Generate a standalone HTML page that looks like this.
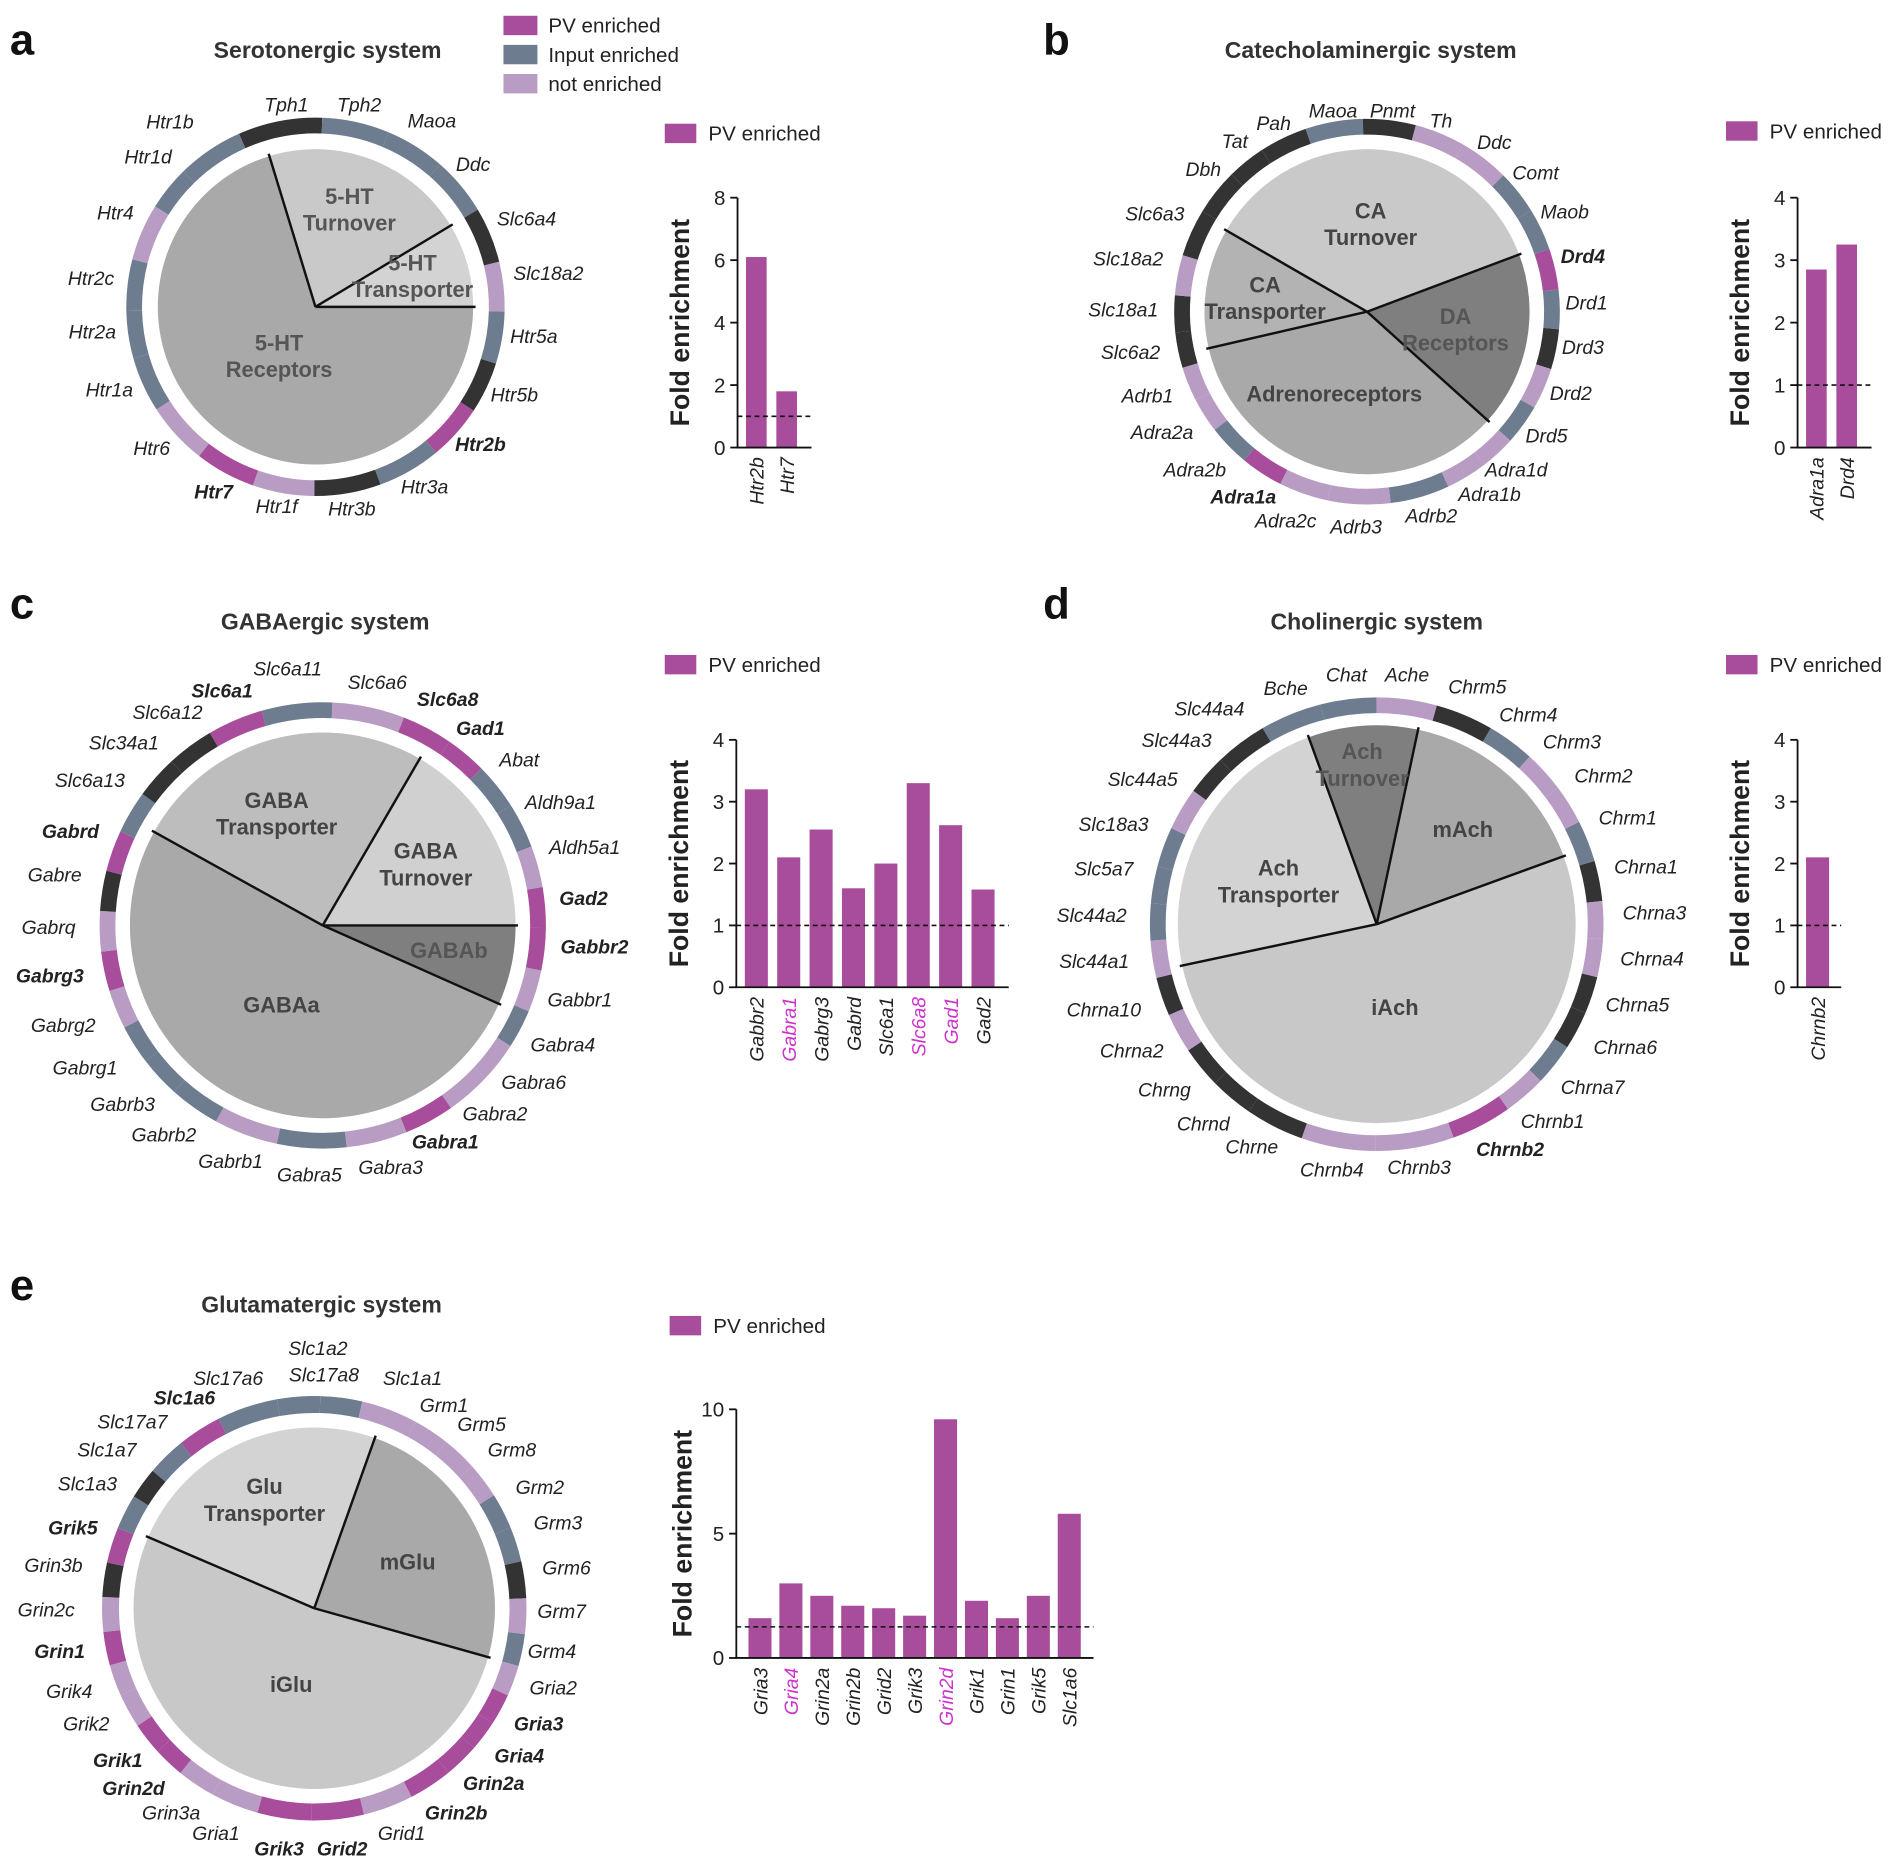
<!DOCTYPE html>
<html><head><meta charset="utf-8"><style>
html,body{margin:0;padding:0;background:#fff}
svg{display:block}
text{font-family:"Liberation Sans",Arial,sans-serif}
</style></head><body>
<svg id="fig" xmlns="http://www.w3.org/2000/svg" width="1902" height="1869" viewBox="0 0 1568 1541">
<rect width="1568" height="1541" fill="#fff"/>
<g font-weight="bold" font-size="36" fill="#111">
<text x="8" y="45">a</text>
<text x="860" y="45">b</text>
<text x="8" y="510">c</text>
<text x="860" y="510">d</text>
<text x="8" y="1072">e</text>
</g>
<g font-weight="bold" font-size="19" fill="#333" text-anchor="middle">
<text x="270" y="48">Serotonergic system</text>
<text x="1130" y="48">Catecholaminergic system</text>
<text x="268" y="519">GABAergic system</text>
<text x="1135" y="519">Cholinergic system</text>
<text x="265" y="1082">Glutamatergic system</text>
</g>
<g font-size="17" fill="#222">
<rect x="415" y="13" width="28" height="16" fill="#a84c9c"/><text x="452" y="27">PV enriched</text>
<rect x="415" y="37" width="28" height="16" fill="#6d7d8f"/><text x="452" y="51">Input enriched</text>
<rect x="415" y="61" width="28" height="16" fill="#b99cc3"/><text x="452" y="75">not enriched</text>
</g>
<g id="donuts"></g>
<g id="bars"></g>
</svg>
<script>
const NS="http://www.w3.org/2000/svg";
const COL={M:"#a84c9c",S:"#6d7d8f",L:"#b99cc3",D:"#333333"};
// Bar chart data
const barCatsA=["Htr2b","Htr7"];
const barValsA=[6.1,1.8];
const barTicksA=[0,2,4,6,8];
const barCatsB=["Adra1a","Drd4"];
const barValsB=[2.85,3.25];
const barTicksB=[0,1,2,3,4];
const barCatsC=["Gabbr2","Gabra1","Gabrg3","Gabrd","Slc6a1","Slc6a8","Gad1","Gad2"];
const barValsC=[3.2,2.1,2.55,1.6,2.0,3.3,2.62,1.58];
const barHiC=[false,true,false,false,false,true,true,false];
const barTicksC=[0,1,2,3,4];
const barCatsD=["Chrnb2"];
const barValsD=[2.1];
const barTicksD=[0,1,2,3,4];
const barCatsE=["Gria3","Gria4","Grin2a","Grin2b","Grid2","Grik3","Grin2d","Grik1","Grin1","Grik5","Slc1a6"];
const barValsE=[1.6,3.0,2.5,2.1,2.0,1.7,9.6,2.3,1.6,2.5,5.8];
const barHiE=[false,true,false,false,false,false,true,false,false,false,false];
const barTicksE=[0,5,10];

function el(tag,attrs,parent){const e=document.createElementNS(NS,tag);for(const k in attrs)e.setAttribute(k,attrs[k]);parent.appendChild(e);return e;}
function pt(cx,cy,r,a){const t=a*Math.PI/180;return [cx+r*Math.cos(t),cy+r*Math.sin(t)];}
function wedge(cx,cy,r,a1,a2){const p1=pt(cx,cy,r,a1),p2=pt(cx,cy,r,a2);const lg=(a2-a1)>180?1:0;return `M${cx},${cy}L${p1[0]},${p1[1]}A${r},${r} 0 ${lg} 1 ${p2[0]},${p2[1]}Z`;}
function annulus(cx,cy,r1,r2,a1,a2){const p1=pt(cx,cy,r2,a1),p2=pt(cx,cy,r2,a2),p3=pt(cx,cy,r1,a2),p4=pt(cx,cy,r1,a1);const lg=(a2-a1)>180?1:0;return `M${p1[0]},${p1[1]}A${r2},${r2} 0 ${lg} 1 ${p2[0]},${p2[1]}L${p3[0]},${p3[1]}A${r1},${r1} 0 ${lg} 0 ${p4[0]},${p4[1]}Z`;}

const donuts=[
{id:"a",cx:260,cy:253,R:130,r1:143,r2:156,
 sectors:[[-107,-31,"#c9c9c9"],[-31,0,"#d3d3d3"],[0,253,"#a9a9a9"]],
 lines:[-107,-31,0],
 labels:[["5-HT","Turnover",288,168,"#555"],["5-HT","Transporter",340,223,"#555"],["5-HT","Receptors",230,289,"#555"]],
 genes:[["Tph1",236,92,"D"],["Tph2",296,92,"S"],["Maoa",356,105,"S"],["Ddc",390,141,"S"],["Slc6a4",434,186,"D"],["Slc18a2",452,231,"L"],["Htr5a",440,283,"S"],["Htr5b",424,331,"D"],["Htr2b",396,372,"M",1],["Htr3a",350,407,"S"],["Htr3b",290,425,"D"],["Htr1f",228,423,"L"],["Htr7",176,411,"M",1],["Htr6",125,375,"L"],["Htr1a",90,327,"S"],["Htr2a",76,279,"S"],["Htr2c",75,235,"S"],["Htr4",95,181,"L"],["Htr1d",122,135,"S"],["Htr1b",140,106,"S"]]},
{id:"b",cx:1127,cy:257,R:134,r1:146,r2:159,
 sectors:[[-150,-20.6,"#c9c9c9"],[-20.6,42,"#7f7f7f"],[42,167,"#a9a9a9"],[167,210,"#b3b3b3"]],
 lines:[-150,-20.6,42,167],
 labels:[["CA","Turnover",1130,180,"#444"],["CA","Transporter",1043,241,"#444"],["DA","Receptors",1200,267,"#555"],["Adrenoreceptors",null,1100,331,"#444"]],
 genes:[["Maoa",1099,97,"S"],["Pnmt",1148,97,"D"],["Th",1188,105,"L"],["Ddc",1232,123,"L"],["Comt",1266,148,"S"],["Maob",1290,180,"S"],["Drd4",1305,217,"M",1],["Drd1",1308,255,"S"],["Drd3",1305,292,"D"],["Drd2",1295,330,"L"],["Drd5",1275,365,"S"],["Adra1d",1250,393,"L"],["Adra1b",1228,413,"L"],["Adrb2",1180,431,"S"],["Adrb3",1118,440,"L"],["Adra2c",1060,435,"L"],["Adra1a",1025,415,"M",1],["Adra2b",985,393,"S"],["Adra2a",958,362,"L"],["Adrb1",946,332,"L"],["Slc6a2",932,296,"D"],["Slc18a1",926,261,"D"],["Slc18a2",930,219,"L"],["Slc6a3",952,182,"D"],["Dbh",992,145,"D"],["Tat",1018,122,"D"],["Pah",1050,107,"D"]]},
{id:"c",cx:266,cy:763,R:159,r1:171,r2:184,
 sectors:[[-59.8,0,"#d0d0d0"],[0,24,"#7f7f7f"],[24,209,"#a9a9a9"],[209,300.2,"#bdbdbd"]],
 lines:[-59.8,0,24,209],
 labels:[["GABA","Transporter",228,666,"#444"],["GABA","Turnover",351,708,"#444"],["GABAb",null,370,790,"#555"],["GABAa",null,232,835,"#444"]],
 genes:[["Slc6a11",237,557,"S"],["Slc6a6",311,568,"L"],["Slc6a8",369,582,"M",1],["Gad1",396,606,"M",1],["Abat",428,632,"S"],["Aldh9a1",462,667,"S"],["Aldh5a1",482,704,"L"],["Gad2",481,746,"M",1],["Gabbr2",490,786,"M",1],["Gabbr1",478,830,"L"],["Gabra4",464,867,"S"],["Gabra6",440,898,"L"],["Gabra2",408,924,"L"],["Gabra1",367,947,"M",1],["Gabra3",322,968,"L"],["Gabra5",255,974,"S"],["Gabrb1",190,963,"L"],["Gabrb2",135,941,"S"],["Gabrb3",101,916,"S"],["Gabrg1",70,886,"S"],["Gabrg2",52,851,"L"],["Gabrg3",41,810,"M",1],["Gabrq",40,770,"L"],["Gabre",45,727,"D"],["Gabrd",58,691,"M",1],["Slc6a13",74,649,"S"],["Slc34a1",102,618,"D"],["Slc6a12",138,593,"D"],["Slc6a1",183,575,"M",1]]},
{id:"d",cx:1135,cy:762,R:164,r1:174,r2:187,
 sectors:[[-110,-78,"#7f7f7f"],[-78,-20,"#a9a9a9"],[-20,168,"#c8c8c8"],[168,250,"#d3d3d3"]],
 lines:[-110,-78,-20,168],
 labels:[["Ach","Turnover",1123,626,"#555"],["mAch",null,1206,690,"#444"],["Ach","Transporter",1054,722,"#444"],["iAch",null,1150,837,"#444"]],
 genes:[["Bche",1060,573,"S"],["Chat",1110,562,"S"],["Ache",1160,562,"L"],["Chrm5",1218,572,"D"],["Chrm4",1260,595,"S"],["Chrm3",1296,617,"L"],["Chrm2",1322,645,"L"],["Chrm1",1342,680,"S"],["Chrna1",1357,720,"D"],["Chrna3",1364,758,"L"],["Chrna4",1362,796,"L"],["Chrna5",1350,834,"D"],["Chrna6",1340,869,"D"],["Chrna7",1313,902,"S"],["Chrnb1",1280,930,"L"],["Chrnb2",1245,953,"M",1],["Chrnb3",1170,968,"L"],["Chrnb4",1098,970,"L"],["Chrne",1032,951,"D"],["Chrnd",992,932,"D"],["Chrng",960,904,"D"],["Chrna2",933,872,"L"],["Chrna10",910,838,"D"],["Slc44a1",902,798,"L"],["Slc44a2",900,760,"S"],["Slc5a7",910,722,"S"],["Slc18a3",918,685,"S"],["Slc44a5",942,648,"L"],["Slc44a3",970,616,"D"],["Slc44a4",997,590,"D"]]},
{id:"e",cx:259,cy:1326,R:149,r1:161,r2:175,
 sectors:[[-156.8,-70.4,"#d3d3d3"],[-70.4,15.7,"#a9a9a9"],[15.7,203.2,"#c8c8c8"]],
 lines:[-156.8,-70.4,15.7],
 labels:[["Glu","Transporter",218,1232,"#444"],["mGlu",null,336,1294,"#444"],["iGlu",null,240,1395,"#444"]],
 genes:[["Slc1a2",262,1117,"S"],["Slc17a8",267,1139,"S"],["Slc1a1",340,1142,"L"],["Grm1",366,1164,"L"],["Grm5",397,1180,"L"],["Grm8",422,1201,"L"],["Grm2",445,1232,"S"],["Grm3",460,1261,"S"],["Grm6",467,1298,"D"],["Grm7",463,1334,"L"],["Grm4",455,1367,"S"],["Gria2",456,1397,"L"],["Gria3",444,1427,"M",1],["Gria4",428,1453,"M",1],["Grin2a",407,1476,"M",1],["Grin2b",376,1500,"M",1],["Grid1",331,1517,"L"],["Grid2",282,1530,"M",1],["Grik3",230,1530,"M",1],["Gria1",178,1517,"L"],["Grin3a",141,1500,"L"],["Grin2d",110,1480,"M",1],["Grik1",97,1457,"M",1],["Grik2",71,1427,"L"],["Grik4",57,1400,"L"],["Grin1",49,1367,"M",1],["Grin2c",38,1333,"L"],["Grin3b",44,1296,"D"],["Grik5",60,1265,"M",1],["Slc1a3",72,1229,"S"],["Slc1a7",88,1201,"D"],["Slc17a7",109,1178,"S"],["Slc1a6",152,1158,"M",1],["Slc17a6",188,1142,"S"]]}
];

const dg=document.getElementById("donuts");
donuts.forEach(d=>{
  const g=el("g",{},dg);
  
  
  d.sectors.forEach((s,i)=>{
    const p=el("path",{d:wedge(d.cx,d.cy,d.R,s[0],s[1]),fill:s[2]},g);
    
    
  });
  // ring
  const n=d.genes.length;const th=[];
  d.genes.forEach((gn,i)=>{let a=Math.atan2(gn[2]-d.cy,gn[1]-d.cx)*180/Math.PI;if(i>0){while(a<=th[i-1])a+=360;}th.push(a);});
  for(let i=0;i<n;i++){
    const prev=i==0?th[n-1]-360:th[i-1];const next=i==n-1?th[0]+360:th[i+1];
    const a1=(prev+th[i])/2,a2=(th[i]+next)/2;
    const p=el("path",{d:annulus(d.cx,d.cy,d.r1,d.r2,a1,a2),fill:COL[d.genes[i][3]]},g);
    
    
    const t=el("text",{x:d.genes[i][1],y:d.genes[i][2],"text-anchor":"middle","font-size":"16","font-style":"italic","font-weight":d.genes[i][4]?"bold":"normal",fill:"#222"},g);
    t.textContent=d.genes[i][0];
    
    
  }
  d.lines.forEach(a=>{const p=pt(d.cx,d.cy,d.R+2,a);
    const l=el("line",{x1:d.cx,y1:d.cy,x2:p[0],y2:p[1],stroke:"#111","stroke-width":"2"},g);
    
    
  });
  d.labels.forEach(lb=>{
    const t=el("text",{x:lb[2],y:lb[3],"text-anchor":"middle","font-size":"18","font-weight":"bold",fill:lb[4]},g);
    
    
    if(lb[1]){el("tspan",{x:lb[2],dy:"0"},t).textContent=lb[0];el("tspan",{x:lb[2],dy:"22"},t).textContent=lb[1];}
    else t.textContent=lb[0];
  });
});

const bg=document.getElementById("bars");
function barChart(id,cats,vals,hi,ticks,ax,y0,y1,bx0,step,bw,dash,lx,ly,ylx){
  const g=el("g",{},bg);
  
  
  const max=ticks[ticks.length-1];
  const ys=v=>y0-(v/max)*(y0-y1);
  const sw=el("rect",{x:lx,y:ly,width:26,height:16,fill:COL.M},g);
  
  
  const lt=el("text",{x:lx+36,y:ly+14,"font-size":"17",fill:"#222"},g);lt.textContent="PV enriched";
  
  
  const yt=el("text",{transform:`translate(${ylx},${(y0+y1)/2}) rotate(-90)`,"text-anchor":"middle","font-size":"22","font-weight":"bold",fill:"#222"},g);
  yt.textContent="Fold enrichment";
  
  
  const xEnd=bx0+cats.length*step+4;
  cats.forEach((c,i)=>{
    const x=bx0+i*step;
    const r=el("rect",{x:x,y:ys(vals[i]),width:bw,height:y0-ys(vals[i]),fill:COL.M},g);
    
    
    const t=el("text",{transform:`translate(${x+bw/2+6},${y0+8}) rotate(-90)`,"text-anchor":"end","font-size":"16","font-style":"italic",fill:(hi&&hi[i])?"#cc33cc":"#222"},g);
    t.textContent=c;
    
    
  });
  const dl=el("line",{x1:ax,x2:xEnd,y1:ys(dash),y2:ys(dash),stroke:"#111","stroke-width":"1.3","stroke-dasharray":"4,3"},g);
  
  
  const a=el("path",{d:`M${ax},${y1}V${y0}H${xEnd}`,fill:"none",stroke:"#111","stroke-width":"1.5"},g);
  
  
  ticks.forEach(tv=>{
    el("line",{x1:ax-6,x2:ax,y1:ys(tv),y2:ys(tv),stroke:"#111","stroke-width":"1.5"},g);
    const t=el("text",{x:ax-10,y:ys(tv)+6,"text-anchor":"end","font-size":"17",fill:"#222"},g);
    t.textContent=tv;
    
    
  });
}
barChart("a",barCatsA,barValsA,null,barTicksA,608,369,163,615,25,17,1,548,102,568);
barChart("b",barCatsB,barValsB,null,barTicksB,1482,369,163,1489,25,17,1,1423,100,1442);
barChart("c",barCatsC,barValsC,barHiC,barTicksC,607,814,610,614,26.7,19,1,548,540,567);
barChart("d",barCatsD,barValsD,null,barTicksD,1482,814,610,1489,25,19,1,1423,540,1442);
barChart("e",barCatsE,barValsE,barHiE,barTicksE,607,1367,1162,617,25.5,19,1.25,552,1085,570);
</script>
</body></html>
